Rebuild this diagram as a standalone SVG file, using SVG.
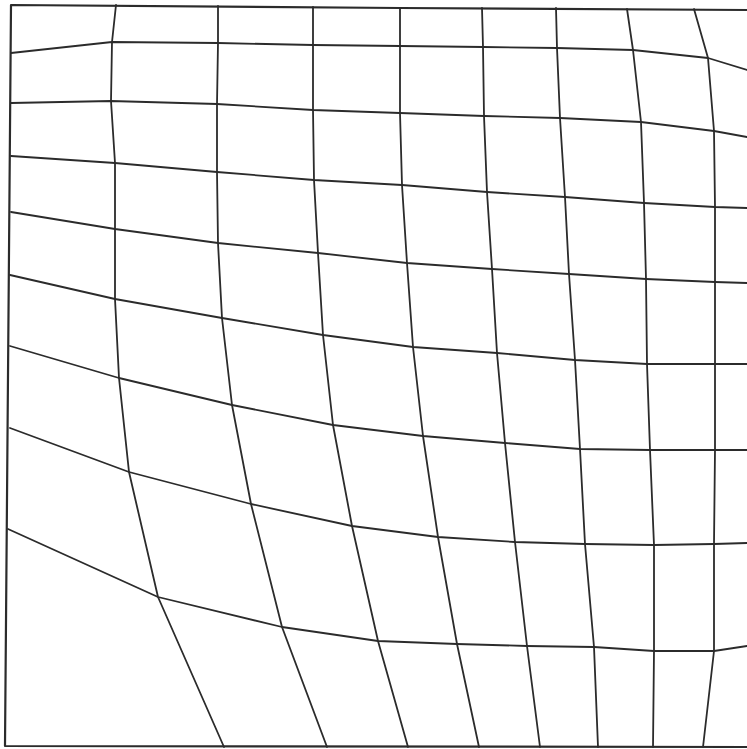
<svg xmlns="http://www.w3.org/2000/svg" width="747" height="749" viewBox="0 0 747 749">
<style>
.g{fill:none;stroke:#2b2b2b;stroke-width:1.8;stroke-linejoin:round;stroke-linecap:round}
.b{fill:none;stroke:#2b2b2b;stroke-width:2.2;stroke-linejoin:round}
</style>
<rect width="747" height="749" fill="#ffffff"/>
<g id="border">
<polyline class="b" points="747,10 400,8 11,5 5,746 747,747"/>
</g>
<g id="horizontal-lines">
<polyline class="g" points="11,53 112,42 218,43 313,45 400,46 483,47 557,48 633,50 708,58 747,70"/>
<polyline class="g" points="11,103 111,101 217,104 313,110 400,113 484,116 560,118 641,122 714,131 747,137"/>
<polyline class="g" points="11,156 115,163 217,172 314,180 402,185 487,192 565,197 644,203 715,207 747,208"/>
<polyline class="g" points="11,212 115,229 218,243 318,253 407,263 492,269 569,274 646,279 715,282 747,283"/>
<polyline class="g" points="10,275 115,299 222,318 323,335 413,347 497,353 575,360 647,364 715,364 747,364"/>
<polyline class="g" points="10,346 119,378 232,405 333,425 423,436 505,443 580,449 650,450 715,450 747,450"/>
<polyline class="g" points="10,428 129,472 251,504 352,526 438,537 515,542 585,544 654,545 714,544 747,543"/>
<polyline class="g" points="8,529 158,597 282,627 378,641 457,644 527,646 594,647 654,651 714,651 747,646"/>
</g>
<g id="vertical-lines">
<polyline class="g" points="116,5 112,42 111,101 115,163 115,229 115,299 119,378 129,472 158,597 224,747"/>
<polyline class="g" points="218,6 218,43 217,104 217,172 218,243 222,318 232,405 251,504 282,627 327,747"/>
<polyline class="g" points="313,7 313,45 313,110 314,180 318,253 323,335 333,425 352,526 378,641 408,747"/>
<polyline class="g" points="400,8 400,46 400,113 402,185 407,263 413,347 423,436 438,537 457,644 479,747"/>
<polyline class="g" points="482,8 483,47 484,116 487,192 492,269 497,353 505,443 515,542 527,646 540,747"/>
<polyline class="g" points="556,8 557,48 560,118 565,197 569,274 575,360 580,449 585,544 594,647 598,747"/>
<polyline class="g" points="627,9 633,50 641,122 644,203 646,279 647,364 650,450 654,545 654,651 653,747"/>
<polyline class="g" points="694,9 708,58 714,131 715,207 715,282 715,364 715,450 714,544 714,651 703,747"/>
</g>
</svg>
